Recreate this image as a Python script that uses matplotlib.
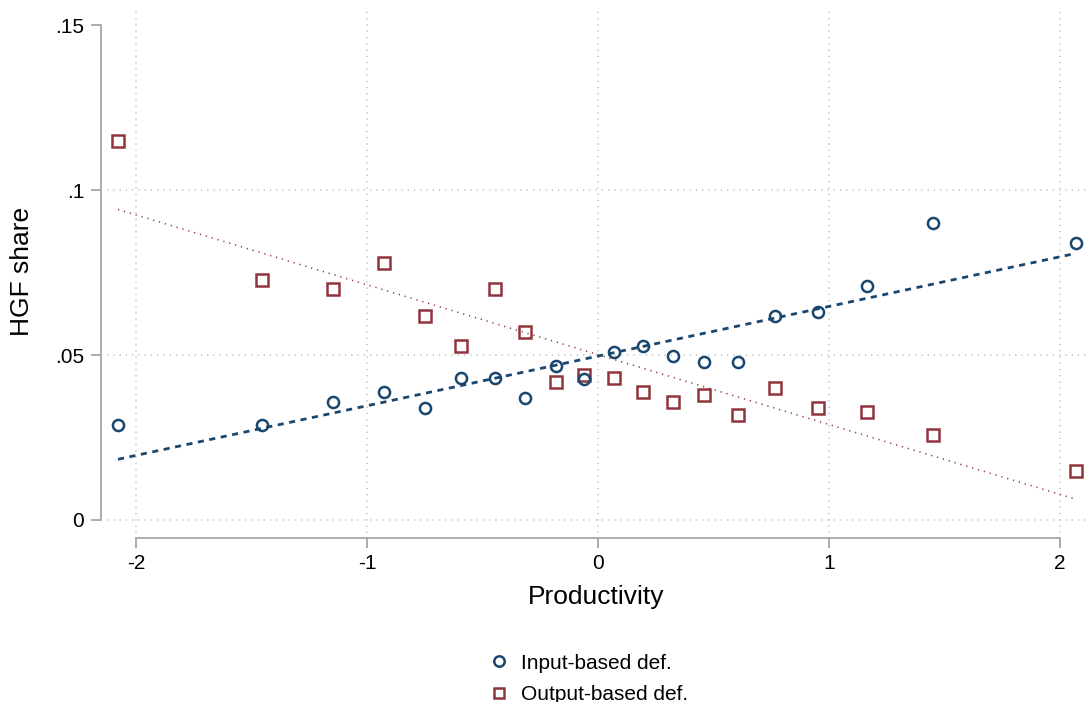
import matplotlib
matplotlib.use("Agg")
import matplotlib.pyplot as plt
from matplotlib.lines import Line2D

plt.rcParams['font.family'] = ['Liberation Sans', 'DejaVu Sans']

# Data (bin means)
productivity = [-2.08, -1.456, -1.148, -0.927, -0.750, -0.594, -0.445, -0.315, -0.182, -0.059,
                0.071, 0.195, 0.324, 0.459, 0.605, 0.768, 0.952, 1.167, 1.450, 2.071]
input_share = [0.0288, 0.0288, 0.0358, 0.0389, 0.0338, 0.0429, 0.0429, 0.0369, 0.0468, 0.0427,
               0.0508, 0.0528, 0.0498, 0.0478, 0.0478, 0.0619, 0.0629, 0.0709, 0.0899, 0.0838]
output_share = [0.1148, 0.0727, 0.0700, 0.0780, 0.0618, 0.0528, 0.0699, 0.0569, 0.0419, 0.0439,
                0.0429, 0.0389, 0.0359, 0.0379, 0.0318, 0.0399, 0.0338, 0.0328, 0.0258, 0.0148]

# Linear fit lines (end points)
fit_x = [-2.08, 2.071]
fit_input = [0.0184, 0.0808]
fit_output = [0.0941, 0.0063]

xticks = [-2, -1, 0, 1, 2]
xticklabels = ['-2', '-1', '0', '1', '2']
yticks = [0, 0.05, 0.10, 0.15]
yticklabels = ['0', '.05', '.1', '.15']

navy = '#1a476f'
maroon = '#90353b'
spine_c = '#a6a6a6'
grid_c = '#bdbdbd'

W, H = 1086, 702
fig = plt.figure(figsize=(W / 100, H / 100), dpi=100)
ax = fig.add_axes([107 / W, (H - 533) / H, (W - 107) / W, (533 - 10) / H])

ax.set_xlim(-2.1278, 2.1148)
ax.set_ylim(-0.00394, 0.15455)

# gridlines
for xv in xticks:
    ax.axvline(xv, color=grid_c, lw=1.1, ls=(0, (0.8, 3.3)), zorder=0)
for yv in yticks[:-1]:
    ax.axhline(yv, color=grid_c, lw=1.1, ls=(0, (0.8, 3.3)), zorder=0)

# fit lines
ax.plot(fit_x, fit_output, color=maroon, lw=1.1, ls=(0, (0.8, 3.2)), zorder=2)
ax.plot(fit_x, fit_input, color=navy, lw=2.0, ls=(0, (2.2, 2.0)), zorder=2)

# scatter points
ax.plot(productivity, output_share, ls='none', marker='s', ms=8, mfc='none',
        mec=maroon, mew=1.8, zorder=3)
ax.plot(productivity, input_share, ls='none', marker='o', ms=8, mfc='none',
        mec=navy, mew=1.8, zorder=4)

# spines
for s in ['top', 'right']:
    ax.spines[s].set_visible(False)
ax.spines['left'].set_position(('outward', 4.3))
ax.spines['bottom'].set_position(('outward', 3.6))
ax.spines['left'].set_bounds(0, 0.15)
ax.spines['bottom'].set_bounds(-2, 2)
for s in ['left', 'bottom']:
    ax.spines[s].set_color(spine_c)
    ax.spines[s].set_linewidth(1.3)

ax.set_xticks(xticks)
ax.set_xticklabels(xticklabels)
ax.set_yticks(yticks)
ax.set_yticklabels(yticklabels)
ax.tick_params(axis='both', colors=spine_c, labelcolor='black', length=7.2, width=1.3,
               labelsize=15)
ax.tick_params(axis='x', pad=4)
ax.tick_params(axis='y', pad=5)

ax.set_xlabel('Productivity', fontsize=19, labelpad=9)
ax.set_ylabel('HGF share', fontsize=19, labelpad=15)

handles = [
    Line2D([], [], ls='none', marker='o', ms=7.5, mfc='none', mec=navy, mew=1.8),
    Line2D([], [], ls='none', marker='s', ms=7.5, mfc='none', mec=maroon, mew=1.8),
]
fig.legend(handles, ['Input-based def.', 'Output-based def.'], loc='upper left',
           bbox_to_anchor=(0.45, 0.069), frameon=False, fontsize=15,
           handlelength=1.0, handletextpad=0.56, labelspacing=0.6,
           borderpad=0, borderaxespad=0)

fig.savefig('out.png', dpi=100)
